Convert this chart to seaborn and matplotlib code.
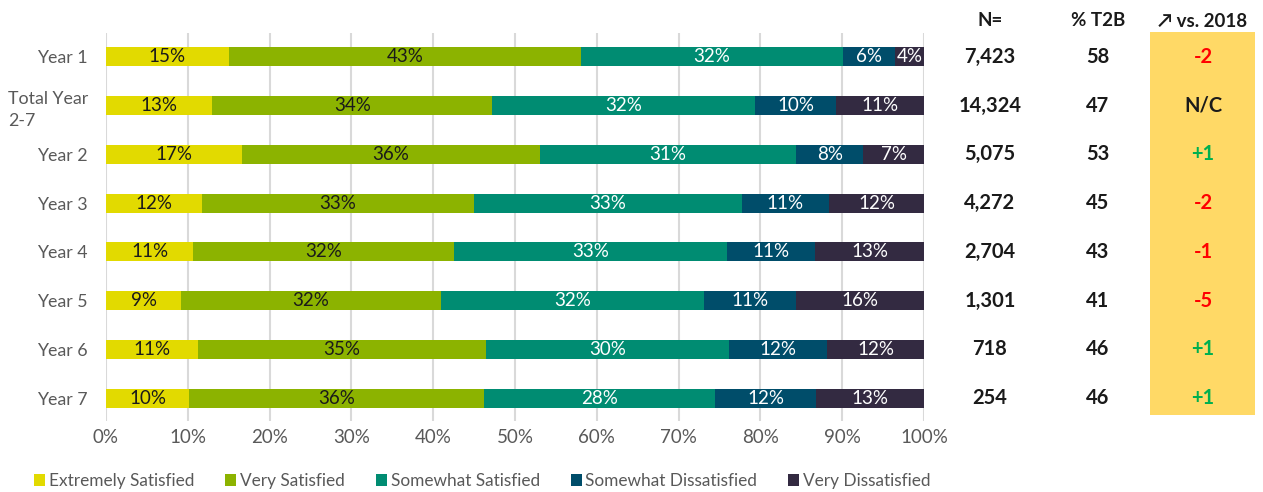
import numpy as np
import pandas as pd
import matplotlib
matplotlib.use("Agg")
import matplotlib.pyplot as plt
import matplotlib.transforms as mtransforms
from matplotlib.patches import Patch, Rectangle
import seaborn as sns

# ---- data -------------------------------------------------------------
categories = ["Year 1", "Total Year\n2-7", "Year 2", "Year 3", "Year 4",
              "Year 5", "Year 6", "Year 7"]
segments = ["Extremely Satisfied", "Very Satisfied", "Somewhat Satisfied",
            "Somewhat Dissatisfied", "Very Dissatisfied"]

extremely_satisfied = [15.0, 13.0, 16.6, 11.7, 10.7, 9.2, 11.2, 10.2]
very_satisfied = [43.1, 34.2, 36.4, 33.3, 31.9, 31.7, 35.2, 36.0]
somewhat_satisfied = [32.0, 32.1, 31.4, 32.7, 33.3, 32.2, 29.8, 28.3]
somewhat_dissatisfied = [6.3, 10.0, 8.2, 10.7, 10.8, 11.3, 12.0, 12.3]
very_dissatisfied = [3.6, 10.7, 7.4, 11.6, 13.3, 15.6, 11.8, 13.2]

n_values = [7423, 14324, 5075, 4272, 2704, 1301, 718, 254]
t2b_values = [58, 47, 53, 45, 43, 41, 46, 46]
change_vs_2018 = ["-2", "N/C", "+1", "-2", "-1", "-5", "+1", "+1"]

xtick_values = [0, 10, 20, 30, 40, 50, 60, 70, 80, 90, 100]

# ---- style ------------------------------------------------------------
colors = ["#E2DA00", "#8CB300", "#008C72", "#004D6A", "#332A41"]
label_colors = ["#1a1a1a", "#1a1a1a", "white", "white", "white"]
grey_text = "#595959"

sns.set_theme(style="white")
plt.rcParams["font.family"] = ["Lato", "DejaVu Sans"]

df = pd.DataFrame({
    "category": categories,
    segments[0]: extremely_satisfied,
    segments[1]: very_satisfied,
    segments[2]: somewhat_satisfied,
    segments[3]: somewhat_dissatisfied,
    segments[4]: very_dissatisfied,
})
cum = df[segments].cumsum(axis=1)

fig = plt.figure(figsize=(12.63, 4.92), dpi=100)
ax = fig.add_axes([0.0839, 0.1443, 0.6477, 0.7886])

# stacked bars: draw cumulative totals from the outermost segment inward
for seg, col in reversed(list(zip(segments, colors))):
    sns.barplot(x=cum[seg], y=df["category"], order=categories, orient="h",
                color=col, saturation=1, width=0.39, ax=ax, linewidth=0)

# segment labels
starts = cum[segments].shift(1, axis=1).fillna(0)
for i in range(len(categories)):
    for j, seg in enumerate(segments):
        val = df[seg].iloc[i]
        centre = starts[seg].iloc[i] + val / 2
        ax.text(centre, i, f"{val:.0f}%", ha="center", va="center",
                fontsize=13.5, color=label_colors[j])

ax.set_xlim(0, 100)
ax.set_ylim(7.47, -0.49)
ax.set_xticks(xtick_values)
ax.set_xticklabels([f"{v}%" for v in xtick_values])
ax.set_xlabel("")
ax.set_ylabel("")
ax.xaxis.grid(True, color="#D9D9D9", linewidth=1.5)
ax.yaxis.grid(False)
ax.set_axisbelow(True)
for s in ax.spines.values():
    s.set_visible(False)
ax.tick_params(axis="x", length=0, pad=6, labelsize=13.5, labelcolor=grey_text)
ax.tick_params(axis="y", length=0, pad=13, labelsize=12.8, labelcolor=grey_text)
for lbl in ax.get_yticklabels():
    if "\n" in lbl.get_text():
        lbl.set_multialignment("left")
        lbl.set_linespacing(1.45)

# right-hand summary columns
fig.add_artist(Rectangle((1150 / 1263, 1 - 415 / 492), 105 / 1263, 383 / 492,
                         transform=fig.transFigure, facecolor="#FFD966",
                         edgecolor="none", zorder=0))
trans = mtransforms.blended_transform_factory(fig.transFigure, ax.transData)
x_n, x_t2b, x_chg = 990 / 1263, 1098 / 1263, 1203 / 1263
for i in range(len(categories)):
    ax.text(x_n, i, f"{n_values[i]:,}", transform=trans, ha="center",
            va="center", fontsize=14.5, fontweight="bold", color="#1a1a1a",
            clip_on=False)
    ax.text(x_t2b, i, f"{t2b_values[i]}", transform=trans, ha="center",
            va="center", fontsize=14.5, fontweight="bold", color="#1a1a1a",
            clip_on=False)
    chg = change_vs_2018[i]
    c = "#FF0000" if chg.startswith("-") else ("#00B050" if chg.startswith("+") else "#1a1a1a")
    ax.text(x_chg, i, chg, transform=trans, ha="center", va="center",
            fontsize=14.5, fontweight="bold", color=c, clip_on=False)

header_y = 1 - 21 / 492
fig.text(x_n, header_y, "N=", ha="center", va="center", fontsize=13.5,
         fontweight="bold", color="#1a1a1a")
fig.text(x_t2b, header_y, "% T2B", ha="center", va="center", fontsize=13.5,
         fontweight="bold", color="#1a1a1a")
fig.text(x_chg, header_y, "\u2197 vs. 2018", ha="center", va="center",
         fontsize=13.5, fontweight="bold", color="#1a1a1a",
         family=["Lato", "DejaVu Sans"])

# legend
handles = [Patch(facecolor=c, edgecolor="none", label=s)
           for s, c in zip(segments, colors)]
fig.legend(handles=handles, loc="center left",
           bbox_to_anchor=(34 / 1263, 1 - 481 / 492),
           ncol=5, frameon=False, fontsize=12.4, labelcolor=grey_text,
           borderpad=0, borderaxespad=0,
           handlelength=0.64, handleheight=0.64, handletextpad=0.22,
           columnspacing=1.8)

fig.savefig("out.png", dpi=100)
